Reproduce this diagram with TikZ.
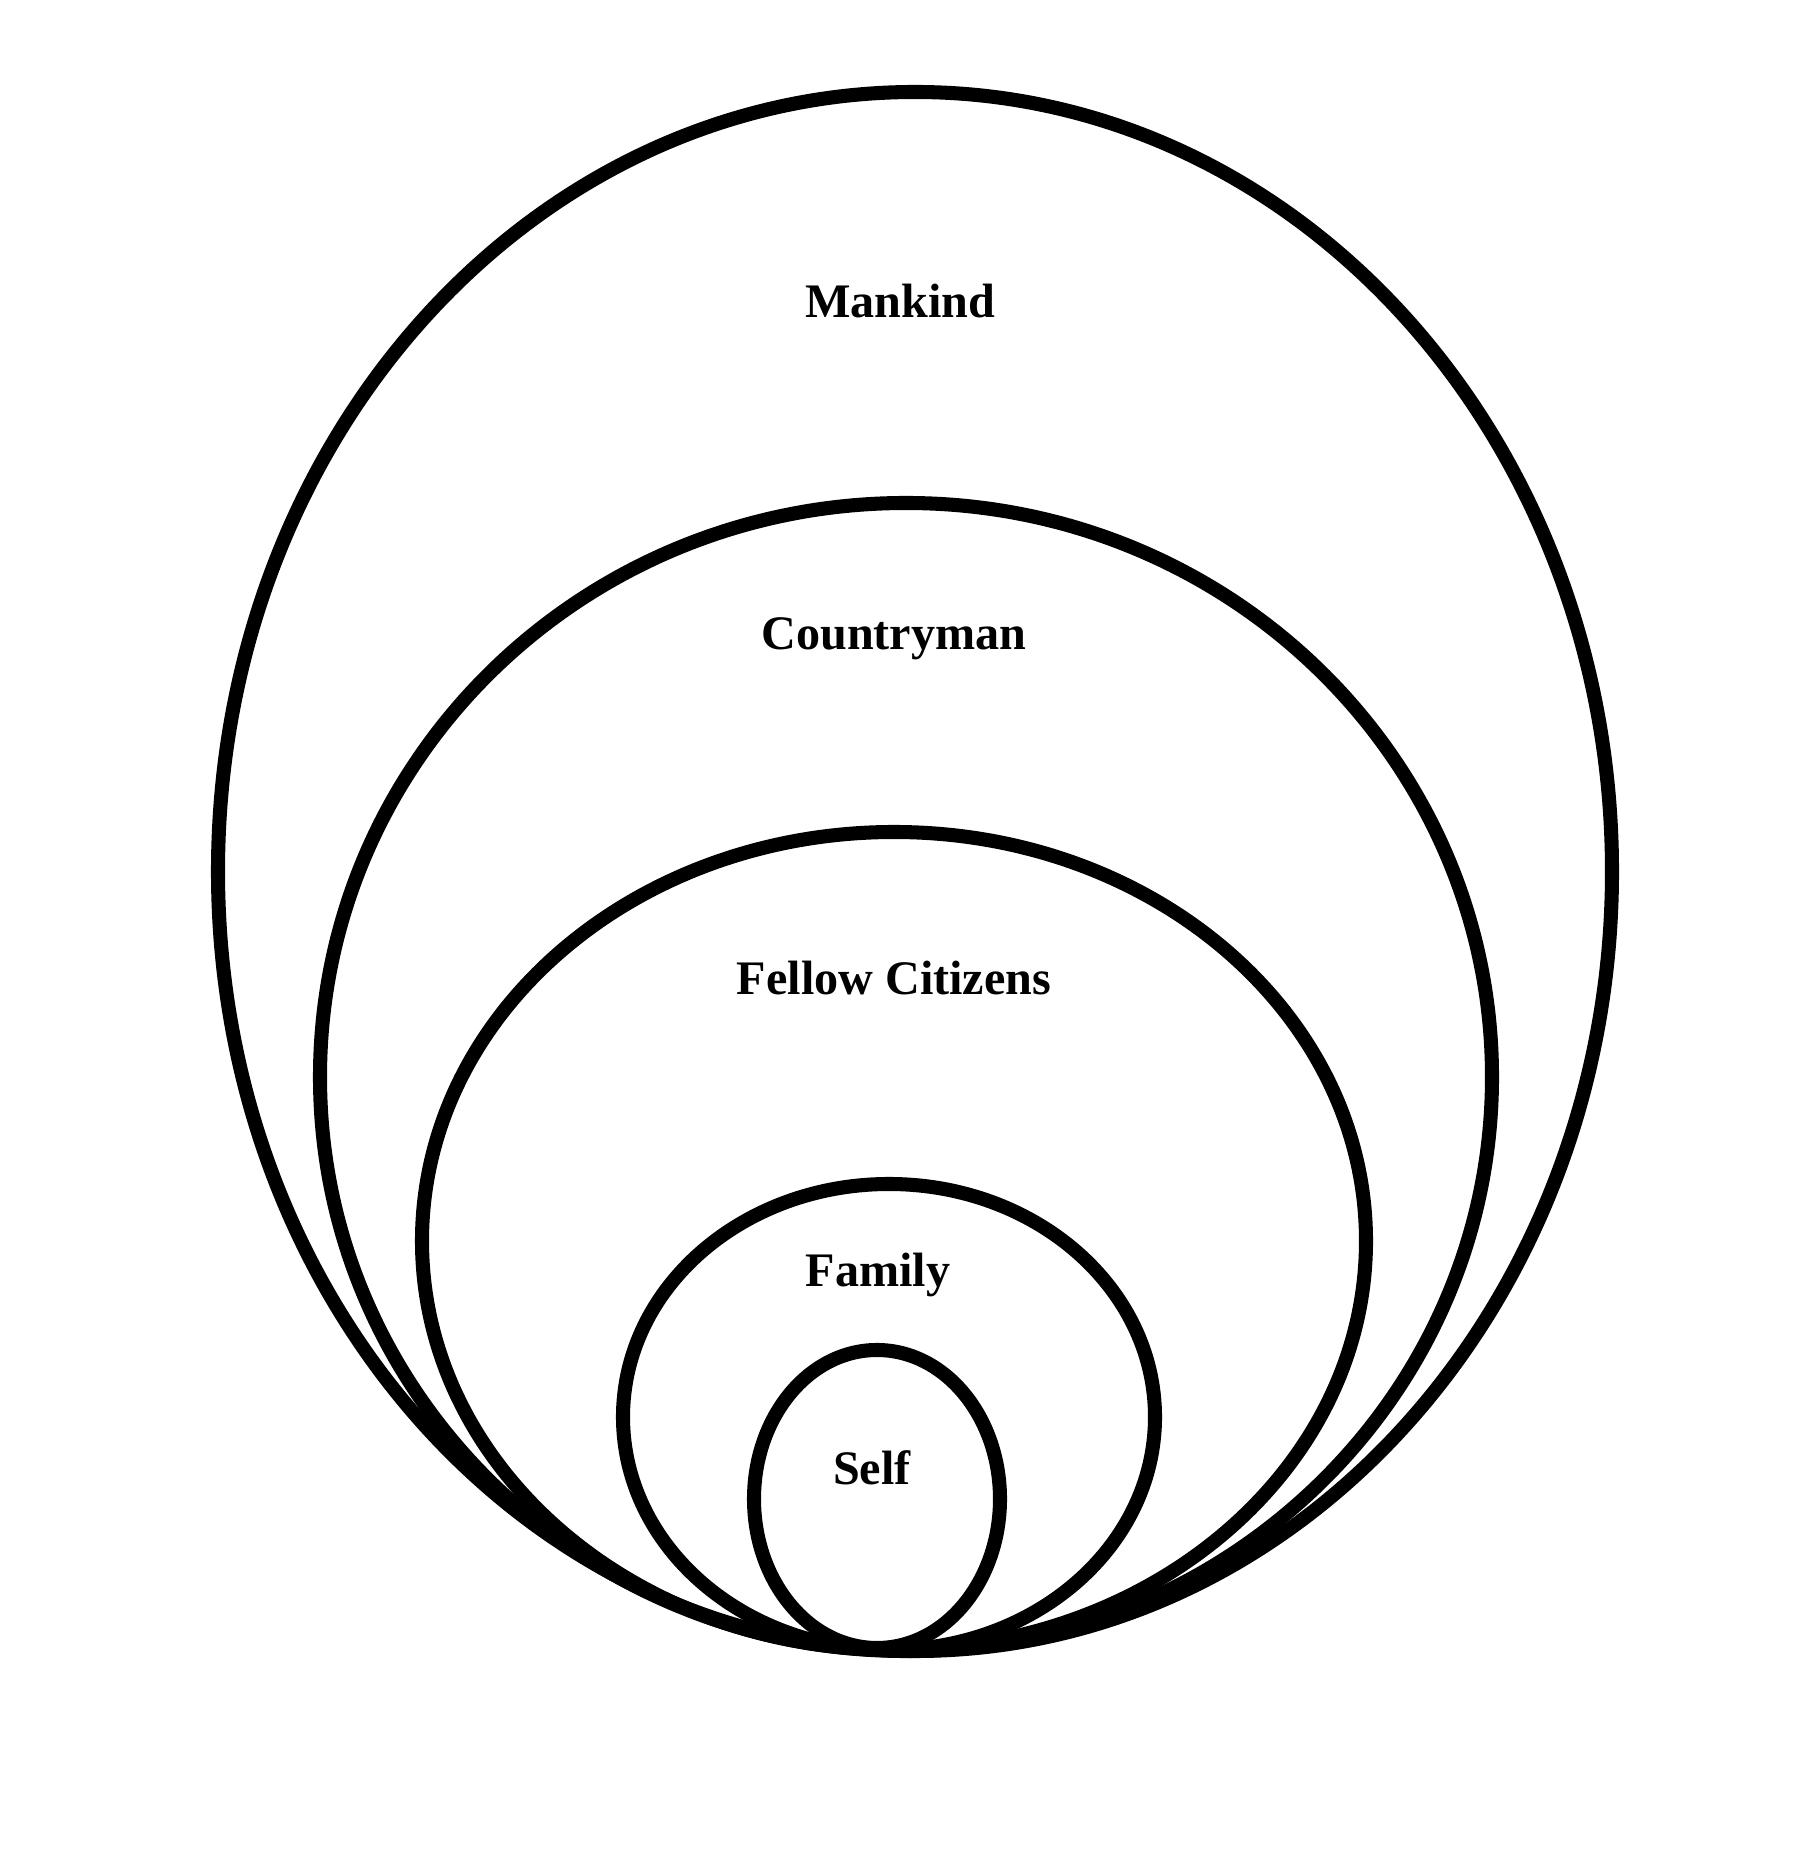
\documentclass[tikz,border=0pt]{standalone}
\usepackage{fontspec}
\setmainfont{Liberation Serif}
\begin{document}
\begin{tikzpicture}[
  ring/.style={draw=black, line width=4pt},
  lbl/.style={font=\fontsize{13.7pt}{16pt}\selectfont\bfseries, anchor=base, inner sep=0pt}
]
\useasboundingbox (0,0) rectangle (18,18.64);
% circles of concern (all tangent at the bottom)
\draw[ring] (9.15,9.925) ellipse [x radius=6.97cm, y radius=7.795cm];
\draw[ring] (9.06,7.87) ellipse [x radius=5.86cm, y radius=5.74cm];
\draw[ring] (8.94,6.23) ellipse [x radius=4.72cm, y radius=4.09cm];
\draw[ring] (8.89,4.47) ellipse [x radius=2.66cm, y radius=2.33cm];
\draw[ring] (8.77,3.65) ellipse [x radius=1.23cm, y radius=1.49cm];
% labels
\node[lbl] (mankind) at (9.00,15.46) {Mankind};
\node[lbl] (country) at (8.94,12.14) {Countryman};
\node[lbl] (fellow) at (8.94,8.69) {Fellow Citizens};
\node[lbl] (family) at (8.78,5.77) {Family};
\node[lbl] (self) at (8.72,3.79) {Self};
\end{tikzpicture}
\end{document}
